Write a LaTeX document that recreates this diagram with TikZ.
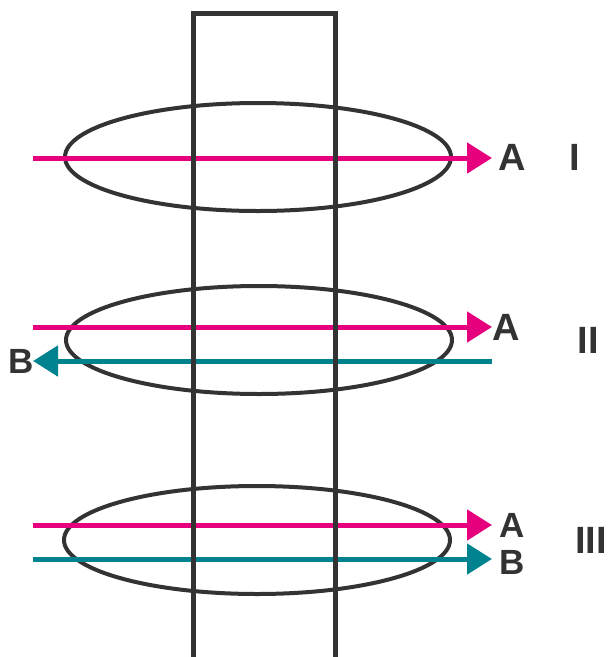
\documentclass[tikz,border=0pt]{standalone}
\usepackage{fontspec}
\setmainfont{Liberation Sans}
\usetikzlibrary{arrows.meta,shapes.geometric}
\definecolor{pinkc}{HTML}{E6007E}
\definecolor{tealc}{HTML}{00838F}
\definecolor{darkc}{HTML}{333333}
\tikzset{
  ring/.style={draw=darkc, line width=4pt, ellipse, inner sep=0pt, minimum width=386pt, minimum height=108pt},
  pinkarrow/.style={draw=pinkc, line width=5pt, -{Triangle[length=25pt,width=30pt]}},
  tealarrow/.style={draw=tealc, line width=5pt, -{Triangle[length=25pt,width=30pt]}},
  biglbl/.style={text=darkc, font=\fontsize{38}{40}\selectfont\bfseries, inner sep=0pt},
  smalllbl/.style={text=darkc, font=\fontsize{35}{37}\selectfont\bfseries, inner sep=0pt},
}
\begin{document}
\begin{tikzpicture}[x=1pt,y=-1pt]
\useasboundingbox (0,0) rectangle (608,657);
% rings
\node[ring] (e1) at (258,157) {};
\node[ring] (e2) at (259,340) {};
\node[ring] (e3) at (257,540) {};
% labels
\node[biglbl] (A1) at (512,157) {A};
\node[biglbl] (R1) at (575,157) {I};
\node[biglbl] (A2) at (506,327) {A};
\node[smalllbl] (B2) at (21,361) {B};
\node[biglbl] (R2) at (588,340) {II};
\node[smalllbl] (A3) at (512,525) {A};
\node[smalllbl] (B3) at (512,562) {B};
\node[biglbl] (R3) at (591,540) {III};
% arrow end points
\coordinate (p1s) at (33,158);
\coordinate (p1e) at (492,158);
\coordinate (p2s) at (33,327);
\coordinate (p2e) at (492,327);
\coordinate (t2s) at (492,361);
\coordinate (t2e) at (33,361);
\coordinate (p3s) at (33,525);
\coordinate (p3e) at (492,525);
\coordinate (t3s) at (33,559);
\coordinate (t3e) at (492,559);
\draw[pinkarrow] (p1s) -- (p1e);
\draw[pinkarrow] (p2s) -- (p2e);
\draw[tealarrow] (t2s) -- (t2e);
\draw[pinkarrow] (p3s) -- (p3e);
\draw[tealarrow] (t3s) -- (t3e);
% stem
\coordinate (s1) at (193.5,660);
\coordinate (s2) at (193.5,13.5);
\coordinate (s3) at (335.5,13.5);
\coordinate (s4) at (335.5,660);
\draw[darkc, line width=4.5pt, line join=miter] (s1) -- (s2) -- (s3) -- (s4);
\end{tikzpicture}
\end{document}
